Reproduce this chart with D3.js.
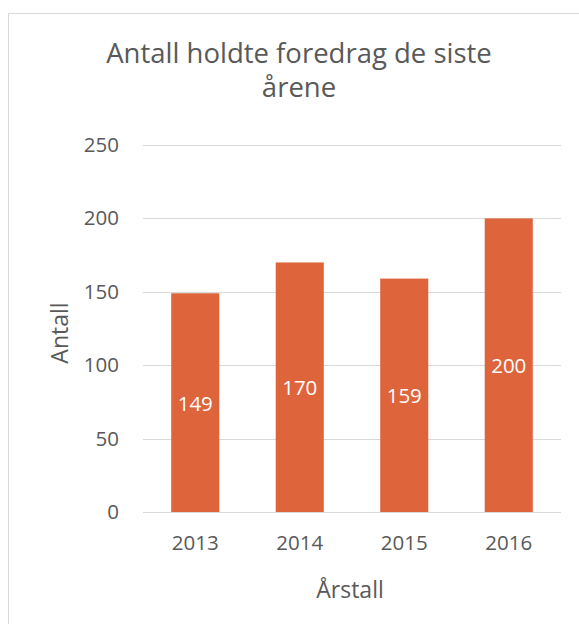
<!DOCTYPE html>
<html><head><meta charset="utf-8">
<script src="https://cdn.jsdelivr.net/npm/d3@7"></script>
<style>body{margin:0;background:#fff}svg{display:block}</style>
</head><body>
<script>
const categories = ["2013", "2014", "2015", "2016"];
const values = [149, 170, 159, 200];
const yTicks = [0, 50, 100, 150, 200, 250];
const titleLines = ["Antall holdte foredrag de siste", "årene"];
const xTitle = "Årstall";
const yTitle = "Antall";

const W = 579, H = 624;
const font = "'Open Sans', sans-serif";
const txt = "#595959";
const svg = d3.select("body").append("svg").attr("width", W).attr("height", H);
svg.append("rect").attr("width", W).attr("height", H).attr("fill", "#fff");
svg.append("rect").attr("x", 8.5).attr("y", 13.5).attr("width", W).attr("height", H)
  .attr("fill", "none").attr("stroke", "#d9d9d9").attr("stroke-width", 1);

const plot = {left: 143, right: 561, top: 145, bottom: 512};
const x = d3.scaleBand().domain(categories).range([plot.left, plot.right]).paddingInner(0.54).paddingOuter(0.27);
const y = d3.scaleLinear().domain([0, 250]).range([plot.bottom, plot.top]);

// gridlines
svg.append("g").selectAll("line").data(yTicks).join("line")
  .attr("x1", plot.left).attr("x2", plot.right)
  .attr("y1", d => Math.round(y(d)) + 0.5).attr("y2", d => Math.round(y(d)) + 0.5)
  .attr("stroke", "#d9d9d9").attr("stroke-width", 1);

// y axis labels
const yAxis = d3.axisLeft(y).tickValues(yTicks).tickSize(0).tickPadding(24);
const gy = svg.append("g").attr("transform", `translate(${plot.left},0)`).call(yAxis);
gy.select(".domain").remove();
gy.selectAll("text").attr("font-family", font).attr("font-size", 20.5).attr("fill", txt);

// bars
svg.append("g").selectAll("rect").data(values).join("rect")
  .attr("x", (d, i) => x(categories[i])).attr("width", x.bandwidth())
  .attr("y", d => y(d)).attr("height", d => y(0) - y(d))
  .attr("fill", "#de643b");

// x axis labels
const xAxis = d3.axisBottom(x).tickSize(0).tickPadding(23);
const gx = svg.append("g").attr("transform", `translate(0,${plot.bottom})`).call(xAxis);
gx.select(".domain").remove();
gx.selectAll("text").attr("font-family", font).attr("font-size", 20.5).attr("fill", txt);

// data labels
svg.append("g").selectAll("text").data(values).join("text")
  .attr("x", (d, i) => x(categories[i]) + x.bandwidth() / 2)
  .attr("y", d => (y(d) + y(0)) / 2 + 1)
  .attr("dy", "0.35em").attr("text-anchor", "middle")
  .attr("font-family", font).attr("font-size", 20.5).attr("fill", "#fff")
  .text(d => d);

// title
svg.append("g").selectAll("text").data(titleLines).join("text")
  .attr("x", 299).attr("y", (d, i) => 63 + i * 34)
  .attr("text-anchor", "middle").attr("font-family", font).attr("font-size", 27.5)
  .attr("fill", txt).text(d => d);

// axis titles
svg.append("text").attr("x", 350).attr("y", 598).attr("text-anchor", "middle")
  .attr("font-family", font).attr("font-size", 23).attr("fill", txt).text(xTitle);
svg.append("text").attr("transform", "translate(68,333) rotate(-90)").attr("text-anchor", "middle")
  .attr("font-family", font).attr("font-size", 23).attr("fill", txt).text(yTitle);
</script>
</body></html>
